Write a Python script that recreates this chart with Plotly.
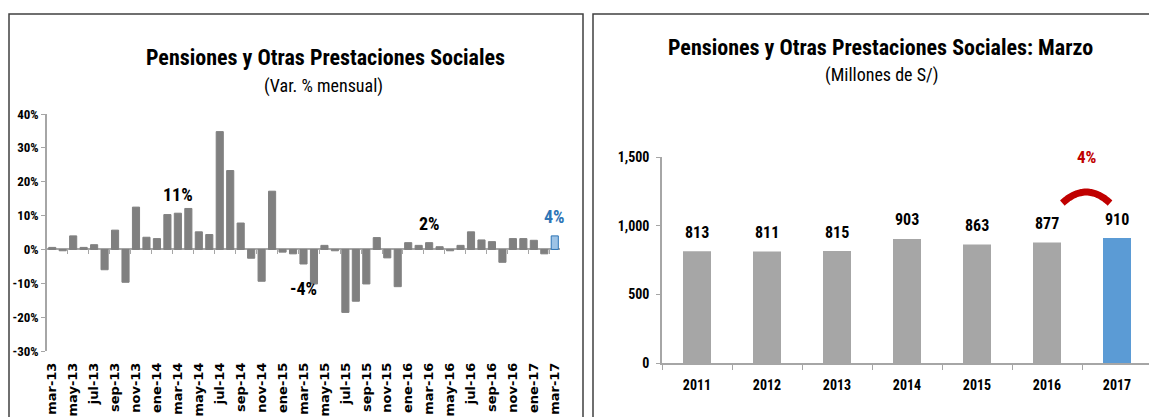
import plotly.graph_objects as go

# ---------------- data ----------------
months = ["mar-13","abr-13","may-13","jun-13","jul-13","ago-13","sep-13","oct-13","nov-13","dic-13",
          "ene-14","feb-14","mar-14","abr-14","may-14","jun-14","jul-14","ago-14","sep-14","oct-14","nov-14","dic-14",
          "ene-15","feb-15","mar-15","abr-15","may-15","jun-15","jul-15","ago-15","sep-15","oct-15","nov-15","dic-15",
          "ene-16","feb-16","mar-16","abr-16","may-16","jun-16","jul-16","ago-16","sep-16","oct-16","nov-16","dic-16",
          "ene-17","feb-17","mar-17"]
var_mensual = [0.6, -0.4, 4.0, 0.6, 1.4, -6.0, 5.7, -9.7, 12.5, 3.6,
               3.2, 10.3, 10.7, 12.1, 5.2, 4.4, 34.8, 23.3, 7.8, -2.6, -9.4, 17.2,
               -0.8, -1.3, -4.3, -10.2, 1.2, -0.4, -18.6, -15.3, -10.2, 3.5, -2.5, -11.0,
               2.0, 1.2, 2.0, 0.8, -0.4, 1.2, 5.2, 2.8, 2.3, -3.8, 3.2, 3.2,
               2.7, -1.3, 4.0]
years = ["2011", "2012", "2013", "2014", "2015", "2016", "2017"]
marzo = [813, 811, 815, 903, 863, 877, 910]

left_ticks = months[::2]
left_yticks = [-30, -20, -10, 0, 10, 20, 30, 40]
right_yticks = [0, 500, 1000, 1500]

# ---------------- style ----------------
OFF = 8  # page body margin
W, H = 1157 - OFF, 417 - OFF
FONT = "Liberation Sans Narrow, Arial Narrow, Roboto Condensed, Liberation Sans, sans-serif"
WIDE = "DejaVu Sans, Open Sans, sans-serif"
GRAY_L = "#808080"
GRAY_R = "#A6A6A6"
BLUE = "#5B9BD5"
AXIS = "#A6A6A6"

def px_x(p):
    return (p - OFF) / W

def px_y(p):
    return (H - (p - OFF)) / H

lx = [px_x(47), px_x(560)]
ly = [px_y(351), px_y(114)]
rx = [px_x(662), px_x(1152)]
ry = [px_y(363), px_y(157)]

fig = go.Figure()

n = len(months)
colors_l = [GRAY_L] * (n - 1) + ["#9DC3E6"]
lines_l = [GRAY_L] * (n - 1) + ["#2E75B6"]
fig.add_trace(go.Bar(x=months, y=var_mensual, marker=dict(color=colors_l, line=dict(color=lines_l, width=1)),
                     width=0.68, xaxis="x", yaxis="y", showlegend=False, hoverinfo="x+y"))
# empty helper trace so the zero-line tick axis is drawn
fig.add_trace(go.Scatter(x=[], y=[], xaxis="x4", yaxis="y", showlegend=False, hoverinfo="skip"))

colors_r = [GRAY_R] * (len(years) - 1) + [BLUE]
fig.add_trace(go.Bar(x=years, y=marzo, marker=dict(color=colors_r, line=dict(width=0)),
                     width=0.4, xaxis="x2", yaxis="y2", showlegend=False, hoverinfo="x+y"))

# arc between the last two years (on an overlay linear axis)
i0, i1 = len(years) - 2, len(years) - 1
base = max(marzo[i0], marzo[i1]) * 1.28
h = 80
ts = [k / 30 for k in range(31)]
arc_x = [i0 + 0.22 + (i1 - 0.1 - (i0 + 0.22)) * t for t in ts]
arc_y = [base + h * (1 - (2 * t - 1) ** 2) for t in ts]
fig.add_trace(go.Scatter(x=arc_x, y=arc_y, mode="lines", line=dict(color="#C00000", width=7, shape="spline"),
                         xaxis="x3", yaxis="y2", showlegend=False, hoverinfo="skip"))

zero_pos = ly[0] + (0 - left_yticks[0]) / (left_yticks[-1] - left_yticks[0]) * (ly[1] - ly[0])

fig.update_layout(
    width=W, height=H, margin=dict(l=0, r=0, t=0, b=0, autoexpand=False),
    paper_bgcolor="white", plot_bgcolor="white",
    font=dict(family=FONT, color="black"),
    bargap=0.3,
    xaxis=dict(domain=lx, type="category", anchor="y", tickmode="array", tickvals=left_ticks, ticktext=left_ticks,
               tickangle=-90, tickfont=dict(size=13, weight="bold", family=WIDE), showline=False, showgrid=False,
               ticks="", ticklabelstandoff=8, range=[-0.5, n - 0.5], automargin=False),
    yaxis=dict(domain=ly, anchor="x", range=[left_yticks[0], left_yticks[-1]], tickvals=left_yticks,
               ticktext=[f"{v}%" for v in left_yticks], tickfont=dict(size=13, weight="bold", family=FONT),
               showgrid=False, showline=True, linecolor=AXIS, linewidth=1.5, ticks="outside", ticklen=4,
               tickcolor=AXIS, zeroline=True, zerolinecolor=AXIS, zerolinewidth=1.5, automargin=False),
    xaxis4=dict(overlaying="x", anchor="free", position=zero_pos, range=[-0.5, n - 0.5],
                tickmode="array", tickvals=[k + 0.5 for k in range(1, n - 1, 2)], ticks="outside", ticklen=4,
                tickcolor=AXIS, tickwidth=1.2, showticklabels=False, showgrid=False, showline=False,
                zeroline=False, automargin=False),
    xaxis2=dict(domain=rx, type="category", anchor="y2", tickfont=dict(size=14, weight="bold", family=FONT),
                showline=True, linecolor=AXIS, linewidth=1.5, ticks="outside", tickson="boundaries", ticklen=5,
                tickcolor=AXIS, showgrid=False, ticklabelstandoff=8, range=[-0.5, len(years) - 0.5],
                automargin=False),
    xaxis3=dict(overlaying="x2", anchor="y2", range=[-0.5, len(years) - 0.5], visible=False, automargin=False),
    yaxis2=dict(domain=ry, anchor="x2", range=[0, right_yticks[-1]], tickvals=right_yticks,
                tickformat=",", tickfont=dict(size=14, weight="bold", family=FONT), showgrid=False,
                showline=True, linecolor=AXIS, linewidth=1.5, ticks="outside", ticklen=4, tickcolor=AXIS,
                zeroline=False, automargin=False, ticklabelstandoff=4),
)

annotations = []
# monthly chart: label every March
for i, (m, v) in enumerate(zip(months, var_mensual)):
    if m.startswith("mar") and i > 0:
        last = i == n - 1
        annotations.append(dict(x=i, y=v, xref="x", yref="y", text=f"{round(v):.0f}%", showarrow=False,
                                xanchor="center", yanchor="middle",
                                yshift=19 if v >= 0 else -25,
                                font=dict(size=18, weight="bold", family=FONT,
                                          color="#2E75B6" if last else "black")))
# yearly chart value labels
for i, v in enumerate(marzo):
    annotations.append(dict(x=i, y=v, xref="x2", yref="y2", text=f"{v:,}", showarrow=False,
                            xanchor="center", yanchor="middle", yshift=19,
                            font=dict(size=16, weight="bold", family=FONT)))
growth = (marzo[-1] / marzo[-2] - 1) * 100
annotations.append(dict(x=(i0 + i1) / 2 + 0.07, y=base + h, xref="x3", yref="y2", text=f"{round(growth):.0f}%",
                        xanchor="center", yanchor="middle",
                        showarrow=False, yshift=35, font=dict(size=17, weight="bold", family=FONT, color="#C00000")))

# titles
def title(x, y, text, size):
    return dict(x=px_x(x), y=px_y(y), xref="paper", yref="paper", text=text, showarrow=False,
                xanchor="center", yanchor="middle", font=dict(size=size, family=FONT))

annotations += [
    title(325, 57, "<b>Pensiones y Otras Prestaciones Sociales</b>", 22),
    title(323, 86, "(Var. % mensual)", 18),
    title(880, 47, "<b>Pensiones y Otras Prestaciones Sociales: Marzo</b>", 22),
    title(881, 75, "(Millones de S/)", 18),
]
fig.update_layout(annotations=annotations)

# panel frames
fig.add_shape(type="rect", xref="paper", yref="paper", x0=px_x(9), x1=px_x(583), y0=px_y(430), y1=px_y(14),
              line=dict(color="#404040", width=1.5))
fig.add_shape(type="rect", xref="paper", yref="paper", x0=px_x(593), x1=px_x(1170), y0=px_y(430), y1=px_y(14),
              line=dict(color="#404040", width=1.5))

fig.write_html("out.html")
